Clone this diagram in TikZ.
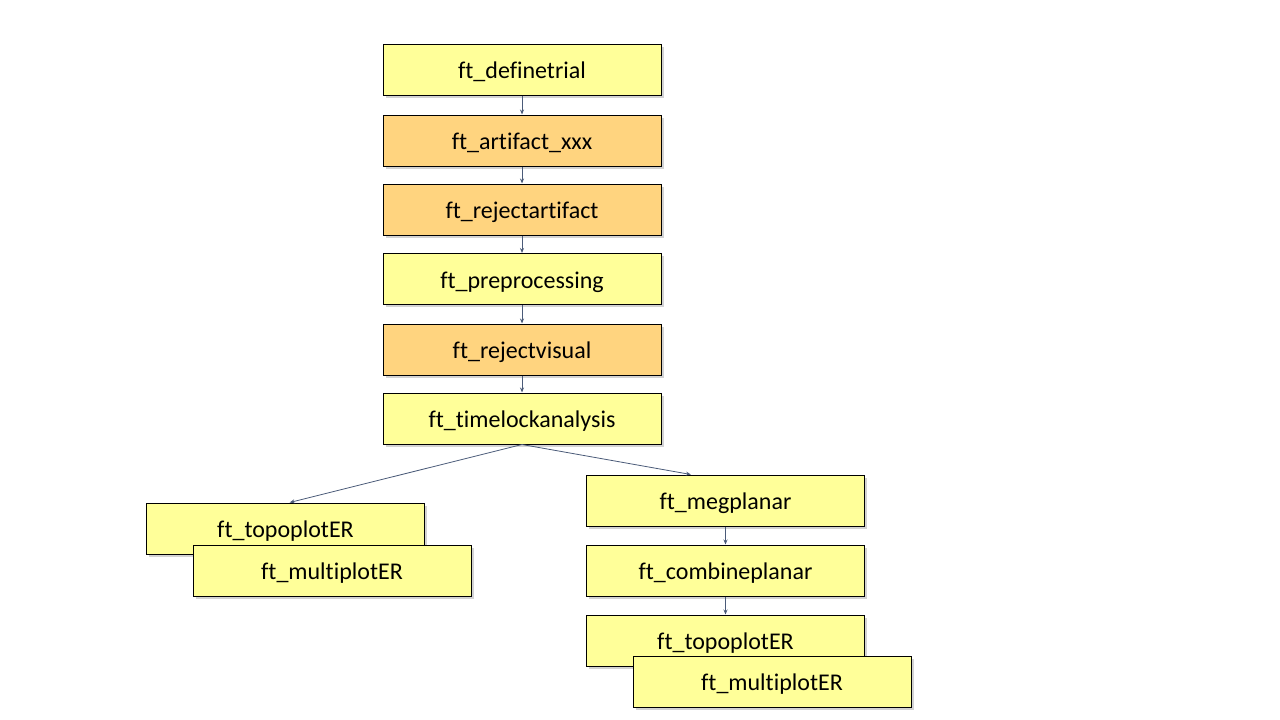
\documentclass[tikz,border=0pt]{standalone}
\usepackage{fontspec}
\setmainfont{Carlito}[Ligatures=NoCommon]
\usetikzlibrary{arrows.meta,shadows,calc}
\definecolor{boxyellow}{HTML}{FFFF99}
\definecolor{boxorange}{HTML}{FFD47F}
\definecolor{linkcol}{HTML}{4A5A78}
\begin{document}
\begin{tikzpicture}[x=1pt,y=-1pt,
  fbox/.style={draw=black, line width=1pt, minimum width=278pt, minimum height=51pt,
    inner sep=0pt, font=\fontsize{24}{28}\selectfont, text height=20pt, text depth=2pt,
    drop shadow={opacity=0.35, shadow xshift=2.5pt, shadow yshift=-2.5pt}},
  ybox/.style={fbox, fill=boxyellow},
  obox/.style={fbox, fill=boxorange},
  link/.style={draw=linkcol, line width=0.8pt, -{Stealth[length=5pt,width=4pt]}}]
\useasboundingbox (0,0) rectangle (1280,720);
\node[ybox] (def) at (522,69.5) {ft\_definetrial};
\node[obox] (art) at (522,140.5) {ft\_artifact\_xxx};
\node[obox] (rej) at (522,209.5) {ft\_rejectartifact};
\node[ybox] (pre) at (522,279) {ft\_preprocessing};
\node[obox] (vis) at (522,349.5) {ft\_rejectvisual};
\node[ybox] (tla) at (522,418.5) {ft\_timelockanalysis};
\node[ybox] (topoL) at (285.5,528.5) {ft\_topoplotER};
\node[ybox] (multL) at (332,570.5) {ft\_multiplotER};
\node[ybox] (meg) at (725.5,500.5) {ft\_megplanar};
\node[ybox] (comb) at (725.5,570.5) {ft\_combineplanar};
\node[ybox] (topoR) at (725.5,640.5) {ft\_topoplotER};
\node[ybox] (multR) at (772,681.5) {ft\_multiplotER};
\coordinate (megin) at ($(meg.north west)!0.376!(meg.north east)$);
\coordinate (topoin) at ($(topoL.north west)!0.515!(topoL.north east)$);
\draw[link] (def) -- (art);
\draw[link] (art) -- (rej);
\draw[link] (rej) -- (pre);
\draw[link] (pre) -- (vis);
\draw[link] (vis) -- (tla);
\draw[link] (tla.south) -- (topoin);
\draw[link] (tla.south) -- (megin);
\draw[link] (meg) -- (comb);
\draw[link] (comb) -- (topoR);
\end{tikzpicture}
\end{document}
